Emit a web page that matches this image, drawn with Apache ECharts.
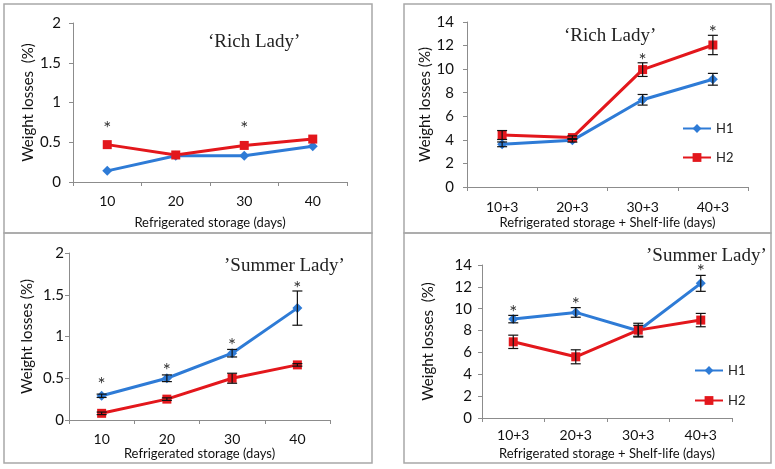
<!DOCTYPE html>
<html>
<head>
<meta charset="utf-8">
<script src="https://cdn.jsdelivr.net/npm/echarts@6/dist/echarts.min.js"></script>
<style>
  html, body { margin: 0; padding: 0; background: #fff; }
  #chart { width: 775px; height: 469px; }
</style>
</head>
<body>
<div id="chart"></div>
<script>
// 冷藏天数 / 冷藏+货架期
var daysCats = ['10', '20', '30', '40'];
var shelfCats = ['10+3', '20+3', '30+3', '40+3'];
var yTicksSmall = [0, 0.5, 1, 1.5, 2];
var yTicksBig = [0, 2, 4, 6, 8, 10, 12, 14];

// 'Rich Lady' 冷藏
var richColdH1 = [0.14, 0.33, 0.33, 0.45];
var richColdH2 = [0.47, 0.34, 0.46, 0.54];
var richColdErrH1 = [0, 0, 0, 0];
var richColdErrH2 = [0, 0, 0, 0];
var richColdStars = [[0, 0.73], [2, 0.73]];

// 'Rich Lady' 冷藏+货架期
var richShelfH1 = [3.62, 3.96, 7.4, 9.14];
var richShelfH2 = [4.41, 4.19, 9.96, 12.05];
var richShelfErrH1 = [0.2, 0.15, 0.45, 0.5];
var richShelfErrH2 = [0.38, 0.15, 0.58, 0.82];
var richShelfStars = [[2, 11.1], [3, 13.5]];

// 'Summer Lady' 冷藏
var sumColdH1 = [0.29, 0.5, 0.8, 1.34];
var sumColdH2 = [0.08, 0.25, 0.5, 0.66];
var sumColdErrH1 = [0.02, 0.04, 0.045, 0.205];
var sumColdErrH2 = [0.015, 0.015, 0.06, 0.015];
var sumColdStars = [[0, 0.48], [1, 0.65], [2, 0.95], [3, 1.63]];

// 'Summer Lady' 冷藏+货架期
var sumShelfH1 = [9.05, 9.66, 7.98, 12.32];
var sumShelfH2 = [6.97, 5.6, 8.04, 8.96];
var sumShelfErrH1 = [0.34, 0.44, 0.5, 0.73];
var sumShelfErrH2 = [0.61, 0.64, 0.63, 0.61];
var sumShelfStars = [[0, 10.1], [1, 10.8], [3, 13.8]];

var blue = '#2e7bd6';
var red = '#e3171c';
var axisGray = '#8c8c8c';
var font = 'Lato';

function errData(vals, errs) {
    var out = [];
    for (var i = 0; i < vals.length; i++) {
        out.push([i, vals[i], errs[i]]);
    }
    return out;
}

function errItem(params, api) {
    var e = api.value(2);
    if (!e) return;
    var x = api.value(0), m = api.value(1);
    var top = api.coord([x, m + e]);
    var bot = api.coord([x, m - e]);
    var w = 5;
    var st = { stroke: '#111', lineWidth: 1.2 };
    return {
        type: 'group',
        children: [
            { type: 'line', shape: { x1: top[0], y1: top[1], x2: bot[0], y2: bot[1] }, style: st },
            { type: 'line', shape: { x1: top[0] - w, y1: top[1], x2: top[0] + w, y2: top[1] }, style: st },
            { type: 'line', shape: { x1: bot[0] - w, y1: bot[1], x2: bot[0] + w, y2: bot[1] }, style: st }
        ]
    };
}

function starItem(params, api) {
    var p = api.coord([api.value(0), api.value(1)]);
    return {
        type: 'text',
        x: p[0], y: p[1] + 5,
        style: { text: '*', fill: '#333', font: '19px ' + font, align: 'center', verticalAlign: 'middle' }
    };
}

function makeX(idx, cats, margin, nameText, nameGap) {
    return {
        gridIndex: idx, type: 'category', data: cats, boundaryGap: true,
        axisLine: { lineStyle: { color: axisGray, width: 1 } },
        axisTick: { show: true, length: 4, lineStyle: { color: axisGray } },
        axisLabel: { color: '#111', fontSize: 14, fontFamily: font, margin: margin },
        name: nameText, nameLocation: 'middle', nameGap: nameGap,
        nameTextStyle: { color: '#111', fontSize: 13, fontFamily: font },
        splitLine: { show: false }
    };
}

function makeY(idx, ticks, margin, nameText, nameGap) {
    return {
        gridIndex: idx, type: 'value',
        min: ticks[0], max: ticks[ticks.length - 1], interval: ticks[1] - ticks[0],
        axisLine: { show: true, lineStyle: { color: axisGray, width: 1 } },
        axisTick: { show: true, length: 4, lineStyle: { color: axisGray } },
        axisLabel: { color: '#111', fontSize: 15, fontFamily: font, margin: margin },
        name: nameText, nameLocation: 'middle', nameGap: nameGap,
        nameTextStyle: { color: '#111', fontSize: 15, fontFamily: font },
        splitLine: { show: false }
    };
}

function lineSeries(idx, name, vals, color, symbol, size) {
    return {
        type: 'line', name: name, xAxisIndex: idx, yAxisIndex: idx, data: vals,
        symbol: symbol, symbolSize: size, showSymbol: true,
        lineStyle: { color: color, width: 3 },
        itemStyle: { color: color },
        z: 3
    };
}

function errSeries(idx, name, vals, errs) {
    return {
        type: 'custom', name: name, xAxisIndex: idx, yAxisIndex: idx,
        data: errData(vals, errs), renderItem: errItem,
        encode: { x: 0, y: 1 }, z: 5, silent: true
    };
}

function starSeries(idx, stars) {
    return {
        type: 'custom', xAxisIndex: idx, yAxisIndex: idx,
        data: stars, renderItem: starItem,
        encode: { x: 0, y: 1 }, z: 6, silent: true
    };
}

function panelSeries(idx, h1, h2, e1, e2, stars) {
    return [
        lineSeries(idx, 'H1', h1, blue, 'diamond', 10),
        lineSeries(idx, 'H2', h2, red, 'rect', 9),
        errSeries(idx, 'H1', h1, e1),
        errSeries(idx, 'H2', h2, e2),
        starSeries(idx, stars)
    ];
}

var boxStyle = { fill: 'none', stroke: '#a8a8a8', lineWidth: 1.5 };
var titleStyle = { fontFamily: 'Liberation Serif', fontSize: 19, fontWeight: 'normal', color: '#222' };

var myChart = echarts.init(document.getElementById('chart'));
var option = {
    backgroundColor: '#fff',
    animation: false,
    title: [
        { text: '\u2018Rich Lady\u2019', left: 203, top: 28, textStyle: titleStyle },
        { text: '\u2018Rich Lady\u2019', left: 559, top: 22, textStyle: titleStyle },
        { text: '\u2019Summer Lady\u2019', left: 219, top: 252, textStyle: titleStyle },
        { text: '\u2019Summer Lady\u2019', left: 641, top: 242, textStyle: titleStyle }
    ],
    legend: [
        {
            data: ['H1', 'H2'], orient: 'vertical', left: 677, top: 117,
            itemWidth: 28, itemHeight: 11, itemGap: 16,
            textStyle: { color: '#222', fontSize: 13, fontFamily: font }
        },
        {
            data: ['H1', 'H2'], orient: 'vertical', left: 689, top: 359,
            itemWidth: 28, itemHeight: 11, itemGap: 17,
            textStyle: { color: '#222', fontSize: 13, fontFamily: font }
        }
    ],
    graphic: [
        { type: 'rect', shape: { x: 4, y: 4, width: 368, height: 229 }, style: boxStyle, silent: true },
        { type: 'rect', shape: { x: 4, y: 233, width: 368, height: 230 }, style: boxStyle, silent: true },
        { type: 'rect', shape: { x: 404, y: 4, width: 367, height: 229 }, style: boxStyle, silent: true },
        { type: 'rect', shape: { x: 404, y: 233, width: 367, height: 230 }, style: boxStyle, silent: true }
    ],
    grid: [
        { left: 73, top: 23, width: 274, height: 159 },
        { left: 467, top: 22, width: 281, height: 165 },
        { left: 69, top: 253, width: 261, height: 167 },
        { left: 482, top: 265, width: 250, height: 153 }
    ],
    xAxis: [
        makeX(0, daysCats, 12, 'Refrigerated storage (days)', 34),
        makeX(1, shelfCats, 13, 'Refrigerated storage + Shelf-life (days)', 29),
        makeX(2, daysCats, 12, 'Refrigerated storage (days)', 27),
        makeX(3, shelfCats, 10, 'Refrigerated storage + Shelf-life (days)', 29)
    ],
    yAxis: [
        makeY(0, yTicksSmall, 12, 'Weight losses  (%)', 37),
        makeY(1, yTicksBig, 13, 'Weight losses (%)', 34),
        makeY(2, yTicksSmall, 5, 'Weight losses (%)', 34),
        makeY(3, yTicksBig, 10, 'Weight losses  (%)', 46)
    ],
    series: [].concat(
        panelSeries(0, richColdH1, richColdH2, richColdErrH1, richColdErrH2, richColdStars),
        panelSeries(1, richShelfH1, richShelfH2, richShelfErrH1, richShelfErrH2, richShelfStars),
        panelSeries(2, sumColdH1, sumColdH2, sumColdErrH1, sumColdErrH2, sumColdStars),
        panelSeries(3, sumShelfH1, sumShelfH2, sumShelfErrH1, sumShelfErrH2, sumShelfStars)
    )
};
myChart.setOption(option);
</script>
</body>
</html>
